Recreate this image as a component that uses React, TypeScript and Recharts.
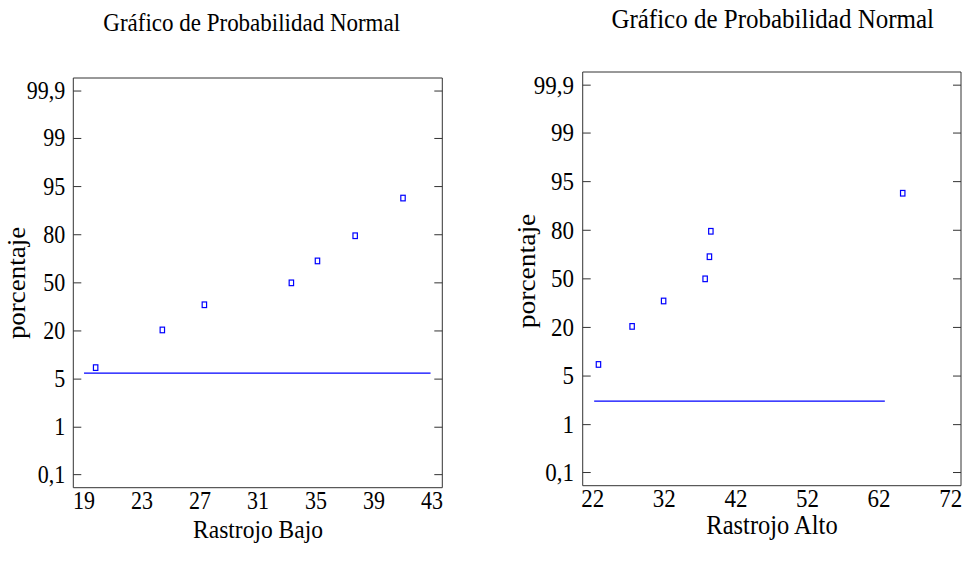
import React from 'react';
import { ScatterChart, Scatter, XAxis, YAxis } from 'recharts';

// Plotting positions (percent) of the 7 ordered observations
const plotPercent = [8.6, 22.4, 36.2, 50, 63.8, 77.6, 91.4];

// Rastrojo Bajo (ordered values)
const bajoValues = [19.8, 24.4, 27.3, 33.3, 35.1, 37.7, 41.0];
const bajoLineX = [19.0, 42.9];
const bajoLinePct = [7.3, 7.3];
const bajoTicks = [19, 23, 27, 31, 35, 39, 43];
const bajoMinorTicks = [19, 20, 21, 22, 23, 24, 25, 26, 27, 28, 29, 30, 31, 32, 33, 34, 35, 36, 37, 38, 39, 40, 41, 42, 43];
const bajoDomain = [18.26, 43.71];

// Rastrojo Alto (ordered values)
const altoValues = [22.8, 27.5, 31.9, 37.7, 38.3, 38.5, 65.3];
const altoLineX = [22.2, 62.8];
const altoLinePct = [2.56, 2.56];
const altoTicks = [22, 32, 42, 52, 62, 72];
const altoMinorTicks = [22, 24, 26, 28, 30, 32, 34, 36, 38, 40, 42, 44, 46, 48, 50, 52, 54, 56, 58, 60, 62, 64, 66, 68, 70, 72];
const altoDomain = [20.6, 73.44];

// Probability axis (normal-score positions of the labels)
const pctTickLabels = ['0,1', '1', '5', '20', '50', '80', '95', '99', '99,9'];
const pctTickZ = [-3.09, -2.326, -1.551, -0.775, 0, 0.775, 1.551, 2.326, 3.09];
const zDomain = [-3.3, 3.3];

// inverse standard normal CDF (Acklam) – probability scale transform
function probit(p: number): number {
  const a = [-3.969683028665376e1, 2.209460984245205e2, -2.759285104469687e2, 1.38357751867269e2, -3.066479806614716e1, 2.506628277459239];
  const b = [-5.447609879822406e1, 1.615858368580409e2, -1.556989798598866e2, 6.680131188771972e1, -1.328068155288572e1];
  const c = [-7.784894002430293e-3, -3.223964580411365e-1, -2.400758277161838, -2.549732539343734, 4.374664141464968, 2.938163982698783];
  const d = [7.784695709041462e-3, 3.224671290700398e-1, 2.445134137142996, 3.754408661907416];
  const pl = 0.02425;
  if (p < pl) {
    const q = Math.sqrt(-2 * Math.log(p));
    return (((((c[0] * q + c[1]) * q + c[2]) * q + c[3]) * q + c[4]) * q + c[5]) / ((((d[0] * q + d[1]) * q + d[2]) * q + d[3]) * q + 1);
  }
  if (p > 1 - pl) {
    const q = Math.sqrt(-2 * Math.log(1 - p));
    return -(((((c[0] * q + c[1]) * q + c[2]) * q + c[3]) * q + c[4]) * q + c[5]) / ((((d[0] * q + d[1]) * q + d[2]) * q + d[3]) * q + 1);
  }
  const q = p - 0.5;
  const r = q * q;
  return ((((((a[0] * r + a[1]) * r + a[2]) * r + a[3]) * r + a[4]) * r + a[5]) * q) / (((((b[0] * r + b[1]) * r + b[2]) * r + b[3]) * r + b[4]) * r + 1);
}

const FONT = "'Liberation Serif', 'Times New Roman', serif";
const FRAME = '#333';
const BLUE = '#0000ff';
const SY = 1.1; // vertical stretch of the original lettering

const Square = (props: any) => {
  const { cx, cy } = props;
  if (cx == null || cy == null) return <g />;
  return <rect x={cx - 2.2} y={cy - 2.8} width={4.4} height={5.6} fill="none" stroke={BLUE} strokeWidth={1.2} />;
};

const NoShape = () => <g />;
const NoTick = () => <g />;

const makeXTick = (fs: number) => (props: any) => {
  const { x, y, payload } = props;
  const by = y + 0.71 * fs * SY;
  return (
    <text transform={`translate(${x} ${by}) scale(1 ${SY})`} textAnchor="middle" fontSize={fs} fontFamily={FONT} fill="#000">
      {String(payload.value)}
    </text>
  );
};

const makeYTick = (fs: number) => (props: any) => {
  const { x, y, payload } = props;
  const idx = pctTickZ.indexOf(payload.value);
  const by = y + 0.33 * fs * SY;
  return (
    <text transform={`translate(${x} ${by}) scale(1 ${SY})`} textAnchor="end" fontSize={fs} fontFamily={FONT} fill="#000">
      {idx >= 0 ? pctTickLabels[idx] : ''}
    </text>
  );
};

type PanelProps = {
  left: number;
  width: number;
  height: number;
  margin: { top: number; right: number; bottom: number; left: number };
  domain: number[];
  ticks: number[];
  minor: number[];
  values: number[];
  lineX: number[];
  linePct: number[];
  fontSize: number;
  xTickMargin: number;
  yTickMargin: number;
};

function Panel(p: PanelProps) {
  const points = p.values.map((x, i) => ({ x, z: probit(plotPercent[i] / 100) }));
  const line = p.lineX.map((x, i) => ({ x, z: probit(p.linePct[i] / 100) }));
  const H = 0.01;
  const tl = { stroke: FRAME, strokeWidth: 1 };
  return (
    <div style={{ position: 'absolute', left: p.left, top: 0 }}>
      <ScatterChart width={p.width} height={p.height} margin={p.margin}>
        {/* labelled bottom axis (frame line + labels) */}
        <XAxis xAxisId="b" type="number" dataKey="x" orientation="bottom" domain={p.domain} ticks={p.ticks}
          interval={0} allowDataOverflow height={H} tickSize={0} tickMargin={p.xTickMargin}
          axisLine={{ stroke: FRAME }} tickLine={false} tick={makeXTick(p.fontSize)} />
        {/* inward tick marks */}
        <XAxis xAxisId="bM" type="number" orientation="bottom" mirror domain={p.domain} ticks={p.ticks}
          interval={0} allowDataOverflow height={H} tickSize={8} axisLine={false} tickLine={tl} tick={NoTick} />
        <XAxis xAxisId="bm" type="number" orientation="bottom" mirror domain={p.domain} ticks={p.minor}
          interval={0} allowDataOverflow height={H} tickSize={4} axisLine={false} tickLine={tl} tick={NoTick} />
        <XAxis xAxisId="t" type="number" orientation="top" mirror domain={p.domain} ticks={p.ticks}
          interval={0} allowDataOverflow height={H} tickSize={8} axisLine={{ stroke: FRAME }} tickLine={tl} tick={NoTick} />
        <XAxis xAxisId="tm" type="number" orientation="top" mirror domain={p.domain} ticks={p.minor}
          interval={0} allowDataOverflow height={H} tickSize={4} axisLine={false} tickLine={tl} tick={NoTick} />
        <YAxis yAxisId="l" type="number" dataKey="z" domain={zDomain} ticks={pctTickZ} interval={0} allowDataOverflow
          width={H} tickSize={0} tickMargin={p.yTickMargin} axisLine={{ stroke: FRAME }} tickLine={false}
          tick={makeYTick(p.fontSize)} />
        <YAxis yAxisId="lM" type="number" mirror domain={zDomain} ticks={pctTickZ} interval={0} allowDataOverflow
          width={H} tickSize={8} axisLine={false} tickLine={tl} tick={NoTick} />
        <YAxis yAxisId="r" type="number" orientation="right" mirror domain={zDomain} ticks={pctTickZ} interval={0} allowDataOverflow
          width={H} tickSize={8} axisLine={{ stroke: FRAME }} tickLine={tl} tick={NoTick} />
        <Scatter xAxisId="b" yAxisId="l" data={line} line={{ stroke: BLUE, strokeWidth: 1.2 }} shape={NoShape} isAnimationActive={false} />
        <Scatter xAxisId="b" yAxisId="l" data={points} shape={Square} isAnimationActive={false} />
      </ScatterChart>
    </div>
  );
}

const StretchText = ({ x, y, fs, rotate, children }: any) => (
  <text transform={`translate(${x} ${y}) rotate(${rotate || 0}) scale(${rotate ? SY : 1} ${rotate ? 1 : SY})`}
    textAnchor="middle" fontSize={fs} fontFamily={FONT} fill="#000">{children}</text>
);

export default function App() {
  return (
    <div style={{ position: 'absolute', left: 0, top: 0, width: 966, height: 561, background: '#fff' }}>
      <Panel left={0} width={460} height={561}
        margin={{ top: 78, left: 73.3, right: 17.7, bottom: 73.3 }}
        domain={bajoDomain} ticks={bajoTicks} minor={bajoMinorTicks} values={bajoValues}
        lineX={bajoLineX} linePct={bajoLinePct} fontSize={22} xTickMargin={4.1} yTickMargin={8} />
      <Panel left={500} width={466} height={561}
        margin={{ top: 72, left: 82.7, right: 5, bottom: 75.3 }}
        domain={altoDomain} ticks={altoTicks} minor={altoMinorTicks} values={altoValues}
        lineX={altoLineX} linePct={altoLinePct} fontSize={23} xTickMargin={3.8} yTickMargin={8.7} />
      <svg width={966} height={561} style={{ position: 'absolute', left: 0, top: 0, pointerEvents: 'none' }}>
        <StretchText x={251.7} y={31} fs={23}>Gráfico de Probabilidad Normal</StretchText>
        <StretchText x={772.7} y={28} fs={25}>Gráfico de Probabilidad Normal</StretchText>
        <StretchText x={258} y={538} fs={23.5}>Rastrojo Bajo</StretchText>
        <StretchText x={772} y={534} fs={24.5}>Rastrojo Alto</StretchText>
        <StretchText x={25} y={283} fs={24.5} rotate={-90}>porcentaje</StretchText>
        <StretchText x={535} y={271} fs={25} rotate={-90}>porcentaje</StretchText>
      </svg>
    </div>
  );
}
